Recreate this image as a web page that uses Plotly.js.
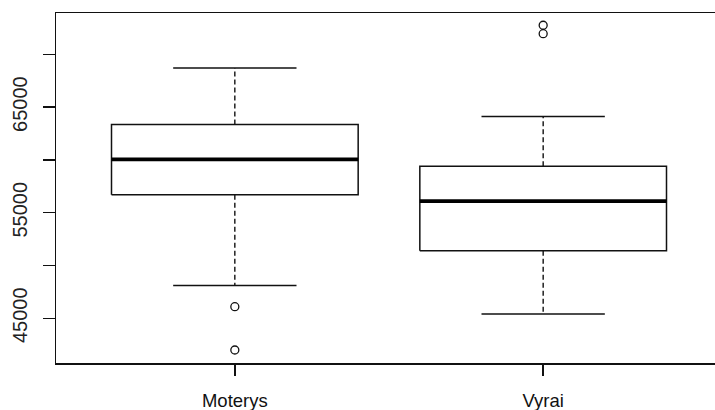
<!DOCTYPE html>
<html>
<head>
<meta charset="utf-8">
<script src="https://cdn.plot.ly/plotly-3.0.1.min.js"></script>
<style>
html,body{margin:0;padding:0;overflow:hidden;background:#fff;}
#chart{width:722px;height:410px;}
</style>
</head>
<body>
<div id="chart"></div>
<script>
const categories = ["Moterys", "Vyrai"];
const lowerWhisker = [48100, 45400];
const q1 = [56700, 51400];
const median = [60050, 56100];
const q3 = [63350, 59400];
const upperWhisker = [68700, 64100];
const outliers = [[46100, 42000], [72750, 71950]];
const yTickVals = [45000, 50000, 55000, 60000, 65000, 70000];
const yTickText = ["45000", "", "55000", "", "65000", ""];

const BOX_HALF = 0.4, CAP_HALF = 0.2;
const pos = categories.map((c, i) => i + 1);

const whiskX = [], whiskY = [], capX = [], capY = [], boxX = [], boxY = [], medX = [], medY = [], outX = [], outY = [];
pos.forEach((p, i) => {
  whiskX.push(p, p, null, p, p, null);
  whiskY.push(q3[i], upperWhisker[i], null, q1[i], lowerWhisker[i], null);
  capX.push(p - CAP_HALF, p + CAP_HALF, null, p - CAP_HALF, p + CAP_HALF, null);
  capY.push(upperWhisker[i], upperWhisker[i], null, lowerWhisker[i], lowerWhisker[i], null);
  boxX.push(p - BOX_HALF, p + BOX_HALF, p + BOX_HALF, p - BOX_HALF, p - BOX_HALF, null);
  boxY.push(q1[i], q1[i], q3[i], q3[i], q1[i], null);
  medX.push(p - BOX_HALF, p + BOX_HALF, null);
  medY.push(median[i], median[i], null);
  outliers[i].forEach(v => { outX.push(p); outY.push(v); });
});

const black = "#111";
const traces = [
  {x: whiskX, y: whiskY, mode: "lines", line: {color: black, width: 1.4, dash: "5px,3px"}, hoverinfo: "skip"},
  {x: capX, y: capY, mode: "lines", line: {color: black, width: 1.5}, hoverinfo: "skip"},
  {x: boxX, y: boxY, mode: "lines", line: {color: black, width: 1.5}, hoverinfo: "skip"},
  {x: medX, y: medY, mode: "lines", line: {color: "#000", width: 3.8}, hoverinfo: "skip"},
  {x: outX, y: outY, mode: "markers", marker: {symbol: "circle-open", size: 8, color: black, line: {width: 1.3}}, hoverinfo: "skip"}
];

const layout = {
  width: 722, height: 410,
  margin: {l: 56, r: 0, t: 13, b: 47},
  paper_bgcolor: "#fff", plot_bgcolor: "#fff",
  showlegend: false,
  xaxis: {
    range: [0.42, 2.58], tickvals: pos, ticktext: categories,
    showgrid: false, zeroline: false, showline: true, mirror: true,
    linecolor: black, linewidth: 1.5,
    ticks: "outside", ticklen: 11, tickwidth: 1.5, tickcolor: black,
    ticklabelstandoff: 9,
    tickfont: {family: "Liberation Sans, Arial", size: 18.5, color: "#111"}
  },
  yaxis: {
    range: [40767, 73911], tickvals: yTickVals, ticktext: yTickText,
    showgrid: false, zeroline: false, showline: true, mirror: true,
    linecolor: black, linewidth: 1.5,
    ticks: "outside", ticklen: 12, tickwidth: 1.5, tickcolor: black,
    tickangle: -90, ticklabelstandoff: 8,
    tickfont: {family: "Liberation Sans, Arial", size: 20, color: "#222"}
  }
};

Plotly.newPlot("chart", traces, layout, {staticPlot: true, displayModeBar: false});
</script>
</body>
</html>
